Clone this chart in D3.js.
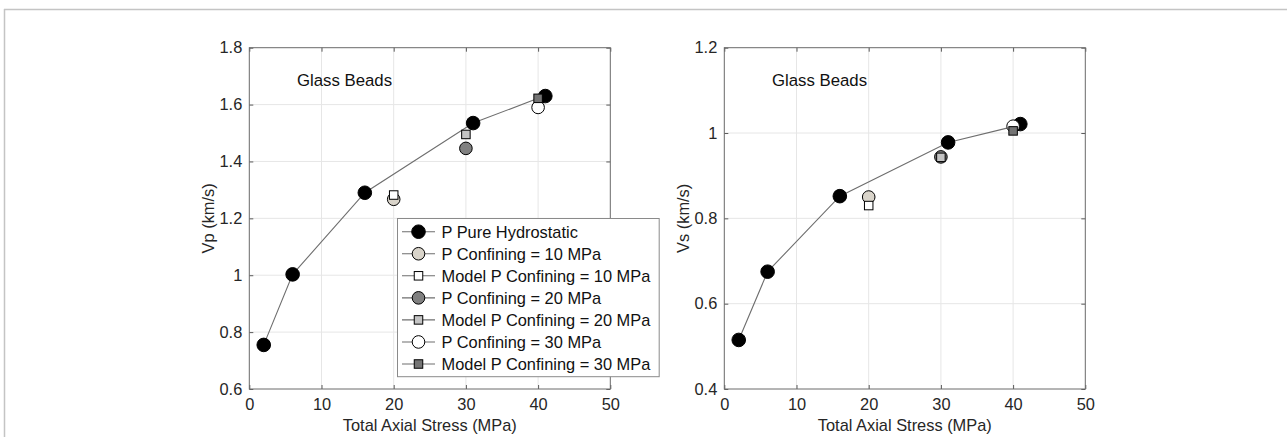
<!DOCTYPE html>
<html>
<head>
<meta charset="utf-8">
<script src="https://cdn.jsdelivr.net/npm/d3@7/dist/d3.min.js"></script>
<style>
  html, body { margin: 0; padding: 0; background: #fff; }
  svg { display: block; font-family: "Liberation Sans", Arial, Helvetica, sans-serif; }
</style>
</head>
<body>
<svg id="chart" width="1287" height="437"></svg>
<script>
// Stress axis ticks (MPa)
const stressTicks = [0, 10, 20, 30, 40, 50];
const vpTicks = [0.6, 0.8, 1, 1.2, 1.4, 1.6, 1.8];
const vsTicks = [0.4, 0.6, 0.8, 1, 1.2];

// Pure hydrostatic loading: marker positions and measured velocities (km/s)
const hydroStress = [2, 6, 16, 31, 41];
const hydroVp = [0.755, 1.003, 1.29, 1.535, 1.63];
const hydroVs = [0.515, 0.675, 0.852, 0.978, 1.021];
// Trend line drawn with the hydrostatic series
const hydroLineStress = [2, 6, 16, 31, 40];
const hydroLineVp = [0.755, 1.003, 1.29, 1.535, 1.622];
const hydroLineVs = [0.515, 0.675, 0.852, 0.978, 1.015];

// Confining pressure runs (one axial stress each)
const confStress = [20, 30, 40];
const confVp = [1.267, 1.446, 1.590];
const modelVp = [1.282, 1.495, 1.622];
const confVs = [0.850, 0.944, 1.016];
const modelVs = [0.830, 0.943, 1.005];

// Legend entries in drawing order
const legendLabels = [
  "P Pure Hydrostatic",
  "P Confining = 10 MPa",
  "Model P Confining = 10 MPa",
  "P Confining = 20 MPa",
  "Model P Confining = 20 MPa",
  "P Confining = 30 MPa",
  "Model P Confining = 30 MPa"
];

const styles = [
  { shape: "circle", fill: "#000000", r: 6.8 },
  { shape: "circle", fill: "#d9d4ca", r: 6.3 },
  { shape: "square", fill: "#ffffff", s: 8.5 },
  { shape: "circle", fill: "#808080", r: 6.3 },
  { shape: "square", fill: "#c4c4c4", s: 8.5 },
  { shape: "circle", fill: "#ffffff", r: 6.3 },
  { shape: "square", fill: "#747474", s: 8.5 }
];

const svg = d3.select("#chart");
const textColor = "#262626";

// Outer figure frame
svg.append("line").attr("x1", 4).attr("y1", 9.5).attr("x2", 1287).attr("y2", 9.5)
  .attr("stroke", "#c4c4c4").attr("stroke-width", 1.5);
svg.append("line").attr("x1", 4.5).attr("y1", 9).attr("x2", 4.5).attr("y2", 437)
  .attr("stroke", "#c4c4c4").attr("stroke-width", 1.5);

function drawMarker(g, st, cx, cy) {
  if (st.shape === "circle") {
    g.append("circle").attr("cx", cx).attr("cy", cy).attr("r", st.r)
      .attr("fill", st.fill).attr("stroke", "#000").attr("stroke-width", 1);
  } else {
    g.append("rect").attr("x", cx - st.s / 2).attr("y", cy - st.s / 2)
      .attr("width", st.s).attr("height", st.s)
      .attr("fill", st.fill).attr("stroke", "#000").attr("stroke-width", 1);
  }
}

function panel(opts) {
  const { left, right, top, bottom, yDomain, yTicks, yTitle, titleX,
          hydroV, lineV, conf, model } = opts;
  const x = d3.scaleLinear().domain([0, 50]).range([left, right]);
  const y = d3.scaleLinear().domain(yDomain).range([bottom, top]);
  const g = svg.append("g");

  // grid
  g.append("g").selectAll("line").data(stressTicks.slice(1, -1)).join("line")
    .attr("x1", d => x(d)).attr("x2", d => x(d)).attr("y1", top).attr("y2", bottom)
    .attr("stroke", "#e6e6e6").attr("stroke-width", 1);
  g.append("g").selectAll("line").data(yTicks.slice(1, -1)).join("line")
    .attr("x1", left).attr("x2", right).attr("y1", d => y(d)).attr("y2", d => y(d))
    .attr("stroke", "#e6e6e6").attr("stroke-width", 1);

  const fmt = d3.format("~g");
  const styleAxis = a => {
    a.select(".domain").remove();
    a.selectAll(".tick line").attr("stroke", "#5a5a5a");
    a.selectAll(".tick text").attr("fill", textColor).attr("font-size", 16.4)
      .attr("font-family", "'Liberation Sans', Arial, sans-serif");
  };
  g.append("g").attr("transform", `translate(0,${bottom})`)
    .call(d3.axisBottom(x).tickValues(stressTicks).tickFormat(fmt).tickSizeInner(-4).tickSizeOuter(0).tickPadding(9))
    .call(styleAxis);
  g.append("g").attr("transform", `translate(0,${top})`)
    .call(d3.axisTop(x).tickValues(stressTicks).tickFormat("").tickSizeInner(-4).tickSizeOuter(0))
    .call(styleAxis);
  g.append("g").attr("transform", `translate(${left},0)`)
    .call(d3.axisLeft(y).tickValues(yTicks).tickFormat(fmt).tickSizeInner(-4).tickSizeOuter(0).tickPadding(7))
    .call(styleAxis);
  g.append("g").attr("transform", `translate(${right},0)`)
    .call(d3.axisRight(y).tickValues(yTicks).tickFormat("").tickSizeInner(-4).tickSizeOuter(0))
    .call(styleAxis);

  // axes box
  g.append("rect").attr("x", left).attr("y", top).attr("width", right - left).attr("height", bottom - top)
    .attr("fill", "none").attr("stroke", "#6a6a6a").attr("stroke-width", 1);

  // titles
  g.append("text").attr("x", (left + right) / 2).attr("y", 431).attr("text-anchor", "middle")
    .attr("font-size", 16.4).attr("fill", textColor).text("Total Axial Stress (MPa)");
  g.append("text").attr("transform", `translate(${titleX},${(top + bottom) / 2}) rotate(-90)`)
    .attr("text-anchor", "middle").attr("font-size", 16.4).attr("fill", textColor).text(yTitle);
  g.append("text").attr("x", x(6.6)).attr("y", 86).attr("font-size", 16.8)
    .attr("fill", "#111").text("Glass Beads");

  // hydrostatic trend line
  const line = d3.line().x(d => x(d[0])).y(d => y(d[1]));
  g.append("path").datum(hydroLineStress.map((s, i) => [s, lineV[i]]))
    .attr("d", line).attr("fill", "none").attr("stroke", "#6e6e6e").attr("stroke-width", 1.1);

  // hydrostatic markers
  const mg = g.append("g");
  hydroStress.forEach((s, i) => drawMarker(mg, styles[0], x(s), y(hydroV[i])));
  // confining runs: measured circle then model square
  confStress.forEach((s, i) => {
    drawMarker(mg, styles[1 + 2 * i], x(s), y(conf[i]));
    drawMarker(mg, styles[2 + 2 * i], x(s), y(model[i]));
  });
  return { x, y };
}

panel({ left: 249.3, right: 610.3, top: 47.7, bottom: 389, yDomain: [0.6, 1.8], yTicks: vpTicks,
        yTitle: "Vp (km/s)", titleX: 214, hydroV: hydroVp, lineV: hydroLineVp, conf: confVp, model: modelVp });
panel({ left: 724.3, right: 1085.3, top: 47.7, bottom: 389, yDomain: [0.4, 1.2], yTicks: vsTicks,
        yTitle: "Vs (km/s)", titleX: 689, hydroV: hydroVs, lineV: hydroLineVs, conf: confVs, model: modelVs });

// Legend (left panel)
const lg = svg.append("g");
const legX = 397.5, legTop = 218.5, rowH = 22.05, firstRow = 231.7;
const items = lg.append("g");
legendLabels.forEach((lab, i) => {
  const cy = firstRow + i * rowH;
  items.append("line").attr("x1", 402).attr("x2", 435).attr("y1", cy).attr("y2", cy)
    .attr("stroke", "#6e6e6e").attr("stroke-width", 1.1);
  drawMarker(items, styles[i], 418.5, cy);
  items.append("text").attr("x", 441.5).attr("y", cy).attr("dy", "0.36em")
    .attr("font-size", 16.4).attr("fill", "#111").text(lab);
});
const bb = items.node().getBBox();
lg.insert("rect", ":first-child").attr("x", legX).attr("y", legTop)
  .attr("width", bb.x + bb.width + 8 - legX).attr("height", 376.7 - legTop)
  .attr("fill", "#fff").attr("stroke", "#8a8a8a").attr("stroke-width", 1);
</script>
</body>
</html>
